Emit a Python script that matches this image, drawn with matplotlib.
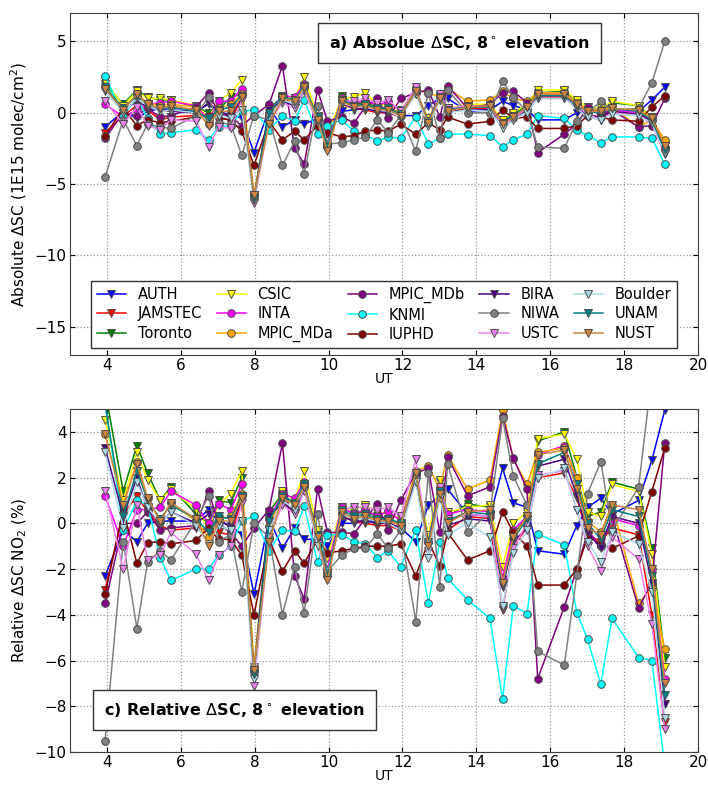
import numpy as np
import matplotlib
matplotlib.use("Agg")
import matplotlib.pyplot as plt

ut = [3.95, 4.44, 4.81, 5.10, 5.44, 5.73, 6.41, 6.75, 7.02, 7.35, 7.65, 7.98,
      8.39, 8.75, 9.08, 9.34, 9.70, 9.97, 10.35, 10.69, 10.99, 11.32, 11.61, 11.95,
      12.36, 12.70, 13.01, 13.22, 13.76, 14.37, 14.71, 15.00, 15.37, 15.66, 16.38, 16.72,
      17.01, 17.37, 17.67, 18.39, 18.75, 19.10]

names = ["AUTH", "JAMSTEC", "Toronto", "CSIC", "INTA", "MPIC_MDa", "MPIC_MDb", "KNMI",
         "IUPHD", "BIRA", "NIWA", "USTC", "Boulder", "UNAM", "NUST"]
colors = ["blue", "red", "green", "yellow", "magenta", "orange", "purple", "cyan",
          "maroon", "indigo", "gray", "violet", "lightblue", "teal", "peru"]
markers = ["v", "v", "v", "v", "o", "o", "o", "o", "o", "v", "o", "v", "v", "v", "v"]

# absolute dSC (1E15 molec/cm2)
absolute = {
    "AUTH": [-1.0, 0.1, -0.4, 0.1, 0.3, 0.2, 0.1, 0.6, 0.0, -0.1, -0.4, -2.8, 0.3, -1.0, -0.5, -0.8, -0.4, -1.1, 0.1, 0.2, 0.3, 0.2, 0.1, -0.2, -0.2, 0.5, 1.0, 1.0, 0.1, 0.2, 0.8, 0.5, 0.2, -0.5, -0.5, 0.0, 0.1, 0.4, 0.3, 0.1, 0.9, 1.8],
    "JAMSTEC": [-1.4, -0.2, 0.5, 0.2, -0.5, -0.3, -0.2, -0.4, -0.3, -0.5, 1.0, -5.9, -0.3, 0.9, 0.6, 1.6, -0.6, -2.3, 0.6, 0.3, 0.2, 0.0, 0.0, -0.3, 1.4, -0.7, 1.0, 0.1, 0.3, 0.3, -0.7, -0.3, 0.2, 1.1, 1.1, 0.3, -0.2, -0.3, 0.0, -0.1, -0.6, -2.6],
    "Toronto": [2.0, 0.6, 1.6, 1.1, 0.9, 0.9, 0.4, 0.0, 0.2, 1.1, 1.3, -5.9, 0.3, 1.1, 1.0, 1.8, -0.3, -2.2, 1.2, 0.6, 0.7, 0.4, 0.3, 0.0, 1.5, -0.5, 1.1, 0.3, 0.5, 0.5, -0.6, -0.1, 0.5, 1.4, 1.5, 0.7, 0.2, 0.1, 0.7, 0.5, -0.3, -2.3],
    "CSIC": [2.2, 0.5, 1.5, 1.0, 1.0, 0.9, 0.5, -0.3, 0.8, 1.4, 2.3, -5.8, -0.2, 1.2, 1.0, 2.5, -0.2, -1.5, 1.0, 1.1, 1.4, 0.6, 0.5, 0.2, 1.6, -0.4, 1.2, 0.3, 0.6, 0.6, -0.5, 0.0, 0.6, 1.6, 1.6, 0.9, 0.4, 0.3, 0.8, 0.5, -0.4, -2.2],
    "INTA": [0.6, -0.3, 0.2, 0.6, 0.7, 0.8, 0.5, -0.5, 0.8, 0.8, 1.7, -5.9, 0.0, 1.2, 1.1, 2.0, -0.5, -2.2, 1.0, 0.6, 0.9, 0.5, 0.8, 0.1, 1.5, -0.6, 1.3, 0.2, 0.4, 0.5, -0.7, -0.3, 0.4, 1.3, 1.3, 0.6, 0.2, 0.0, 0.2, 0.0, -0.5, -2.5],
    "MPIC_MDa": [1.8, 0.3, 1.3, 0.7, 0.5, 0.6, 0.4, -0.8, 0.3, 0.6, 1.3, -5.7, -0.2, 1.0, 0.9, 1.8, -0.5, -2.4, 0.8, 0.5, 0.6, 0.3, 0.3, 0.0, 1.6, 1.4, 1.1, 1.7, 0.8, 0.9, 1.5, 1.0, 0.8, 1.4, 1.4, 0.7, 0.2, 0.2, 0.4, -1.0, -0.5, -1.9],
    "MPIC_MDb": [-1.8, 0.0, -0.2, 0.3, -0.3, -0.2, 0.4, 1.4, 0.0, -0.3, -0.9, -0.2, 0.6, 3.3, -2.5, -3.6, 1.6, -0.6, -0.3, -0.7, 0.4, 1.0, -0.4, 1.0, 1.4, 1.6, -0.3, 1.9, 0.3, 0.6, 1.4, 1.5, 0.7, -2.8, -1.5, -0.8, 0.4, -0.2, 0.2, -1.0, -0.9, 1.0],
    "KNMI": [2.6, -0.2, 1.1, -0.4, -1.5, -1.4, -1.2, -1.9, -1.0, -0.9, 0.1, 0.2, -1.2, -0.2, -0.6, 0.9, -1.5, -0.9, -0.5, -1.3, -1.5, -2.0, -1.7, -1.8, -0.3, -2.2, -1.8, -1.5, -1.5, -1.6, -2.4, -1.9, -1.5, -0.2, -0.4, -1.2, -1.6, -2.1, -1.7, -1.7, -1.8, -3.6],
    "IUPHD": [-1.6, 0.3, -0.9, -0.5, -0.7, -0.6, -0.3, -0.2, -0.4, -0.5, -1.3, -3.7, -0.6, -1.9, -1.3, -1.9, -0.9, -1.4, -1.7, -1.6, -1.3, -1.2, -1.3, -0.8, -1.5, -0.7, -1.2, -0.3, -0.8, -0.6, 0.2, -0.4, -0.3, -1.1, -1.1, -0.9, -0.2, -0.3, -0.5, -0.6, 0.4, 1.2],
    "BIRA": [1.7, 0.2, 0.8, 0.4, 0.2, 0.1, 0.0, 0.7, 0.1, -0.2, 1.0, -6.0, 0.2, 0.8, 0.5, 1.6, -0.6, -2.3, 0.7, 0.3, 0.3, 0.1, 0.0, -0.2, 1.3, -0.6, 0.9, 0.1, 0.2, 0.2, -0.8, -0.4, 0.2, 1.2, 1.2, 0.3, -0.2, -0.3, 0.1, -0.1, -0.6, -2.7],
    "NIWA": [-4.5, -0.5, -2.3, -0.8, -1.0, -1.1, -0.2, 1.1, -0.7, -0.8, -3.0, -0.2, -0.5, -3.7, -2.0, -4.3, 0.5, -2.2, -2.1, -1.9, -1.7, -0.5, -1.4, -0.2, -2.7, 1.4, -1.8, 1.6, 0.0, 0.0, 2.2, 1.1, 0.1, -2.4, -2.5, -0.6, 0.0, 0.8, 0.2, 0.3, 2.1, 5.0],
    "USTC": [0.8, -0.8, 0.4, -0.9, -1.2, -0.5, -0.6, -2.4, -1.0, -1.1, 0.9, -6.3, -0.6, 0.7, 0.3, 1.5, -0.7, -2.5, 0.9, 0.8, 1.0, 0.7, 0.9, 0.1, 1.8, -0.8, 1.3, 0.3, 0.5, 0.4, -0.9, -0.4, 0.3, 1.0, 1.0, 0.5, -0.1, -0.5, 0.0, -0.2, -0.8, -2.9],
    "Boulder": [1.5, 0.0, 1.0, 0.5, 0.1, 0.2, 0.0, -0.6, -0.2, -0.4, 0.2, -6.1, -0.3, 0.9, 0.6, 1.7, -0.6, -2.3, 0.7, 0.4, 0.4, 0.2, 0.1, -0.3, 1.3, -0.9, 0.9, 0.0, 0.2, 0.1, -1.1, -0.5, 0.0, 1.0, 1.0, 0.3, -0.3, -0.5, -0.1, -0.2, -0.7, -2.8],
    "UNAM": [1.8, 0.3, 1.2, 0.6, 0.3, 0.4, 0.1, -0.4, 0.2, 0.4, 1.2, -6.0, 0.0, 1.1, 0.9, 1.9, -0.3, -2.4, 0.9, 0.5, 0.6, 0.3, 0.3, -0.1, 1.5, -0.6, 1.1, 0.2, 0.4, 0.4, -0.7, -0.2, 0.4, 1.2, 1.2, 0.5, 0.1, 0.0, 0.3, 0.1, -0.5, -2.6],
    "NUST": [1.7, 0.2, 1.3, 0.6, 0.3, 0.5, 0.2, -0.9, 0.1, 0.1, 1.1, -5.8, -0.8, 1.0, 0.8, 1.8, -0.5, -2.7, 0.8, 0.4, 0.5, 0.2, 0.2, -0.2, 1.5, -0.7, 1.0, 0.1, 0.4, 0.5, -0.8, -0.3, 0.4, 1.3, 1.3, 0.6, 0.1, 0.1, 0.3, 0.2, -0.4, -2.3],
}

# relative dSC NO2 (%)
relative = {
    "AUTH": [-2.3, -0.3, -0.8, 0.0, 0.1, 0.1, 0.1, 0.6, 0.1, -0.1, -0.5, -3.1, 0.2, -1.1, -0.2, -0.7, -0.7, -1.0, 0.0, 0.0, 0.1, 0.1, 0.0, -0.2, -0.8, 0.8, 1.2, 1.5, 0.4, 0.3, 2.4, 0.9, 0.7, -1.2, -1.35, -0.1, 0.7, 1.1, 0.4, 1.0, 2.75, 4.95],
    "JAMSTEC": [-2.9, 0.4, 1.2, 0.5, -0.1, -0.3, -0.2, -0.3, -0.4, -0.5, 1.0, -6.5, -0.3, 1.0, 0.5, 1.5, -0.8, -2.2, 0.3, 0.1, 0.0, -0.1, -0.1, -0.3, 2.0, -0.9, 1.3, -0.3, 0.3, 0.2, -3.8, -1.0, -0.2, 2.0, 2.2, 1.1, -0.5, -0.8, -0.2, -0.5, -4.0, -8.7],
    "Toronto": [5.8, 1.4, 3.4, 2.2, 1.0, 1.6, 0.4, 0.0, 1.0, 0.9, 2.0, -6.4, 0.5, 1.3, 0.8, 1.6, -0.4, -2.1, 0.7, 0.4, 0.5, 0.3, 0.2, 0.0, 2.1, -0.6, 1.8, 0.3, 0.85, 0.7, -2.7, -0.5, 0.3, 3.6, 4.0, 2.0, 0.3, 0.5, 1.8, 1.5, -1.1, -5.9],
    "CSIC": [4.5, 1.0, 3.1, 1.9, 1.0, 1.5, 0.6, -0.2, 0.8, 1.3, 2.3, -6.3, 0.0, 1.4, 1.0, 2.3, -0.3, -1.5, 0.7, 0.6, 0.8, 0.5, 0.4, 0.2, 2.2, -0.5, 1.9, 0.5, 0.7, 0.8, -1.9, 0.0, 0.5, 3.7, 3.9, 2.8, 0.5, 0.3, 1.7, 1.4, -1.35, -6.3],
    "INTA": [1.2, -1.0, 0.6, 0.6, 0.7, 1.4, 0.8, 0.0, 0.85, 0.6, 1.7, -6.5, 0.2, 1.3, 1.1, 1.8, -0.7, -2.0, 0.7, 0.4, 0.6, 0.3, 0.55, 0.1, 2.1, -0.8, 1.6, 0.4, 0.6, 0.5, -2.4, -0.3, 0.3, 3.0, 3.4, 1.9, -0.3, -1.0, 0.2, -0.1, -2.0, -6.8],
    "MPIC_MDa": [3.9, 0.8, 2.7, 1.1, 0.1, 0.9, 0.1, -0.6, 0.2, 0.3, 1.3, -6.3, -0.1, 1.2, 0.9, 1.7, -0.6, -2.3, 0.4, 0.2, 0.3, 0.2, 0.2, -0.1, 2.3, 2.5, 1.5, 3.0, 1.5, 1.9, 4.95, 2.8, 1.7, 3.1, 3.3, 2.0, 0.1, -0.4, 0.8, -3.5, -2.8, -5.5],
    "MPIC_MDb": [-3.5, 0.0, 0.0, 0.5, -0.3, -0.2, -0.1, 1.4, 0.0, -0.4, -1.0, -0.2, 0.6, 3.5, -2.3, -3.3, 1.5, -0.4, -0.4, -0.45, 0.2, 0.85, -0.3, 1.0, 2.2, 2.4, -0.4, 2.9, 1.2, 1.6, 4.7, 2.85, 1.5, -6.8, -3.65, -2.0, -0.4, -1.0, 0.3, -3.7, -2.6, 3.5],
    "KNMI": [5.3, -0.3, 1.0, 0.8, -1.5, -2.5, -2.0, -2.0, -1.4, -1.0, 0.1, 0.3, -1.2, -0.3, -0.35, 0.75, -1.7, -0.5, -0.5, -0.8, -0.9, -1.5, -1.2, -1.9, -0.3, -3.5, -0.8, -2.4, -3.35, -4.16, -7.7, -3.6, -3.95, -0.47, -0.95, -3.9, -5.07, -7.04, -4.15, -5.87, -6.0, -10.6],
    "IUPHD": [-3.1, 0.6, -1.75, -0.85, -0.8, -0.9, -0.75, -0.2, -0.7, -0.7, -1.4, -4.0, -0.7, -2.1, -1.2, -1.75, -0.7, -1.3, -1.2, -1.1, -1.0, -1.0, -1.0, -0.9, -2.3, -0.8, -1.85, -0.4, -1.6, -1.2, 0.5, -0.4, -1.0, -2.7, -2.7, -2.0, -0.6, -0.9, -1.1, -0.55, 1.39, 3.3],
    "BIRA": [3.3, 0.3, 2.0, 0.6, 0.0, 0.5, 0.0, 0.4, 0.2, -0.2, 1.1, -6.6, 0.3, 0.9, 0.5, 1.5, -0.8, -2.2, 0.3, 0.1, 0.1, 0.0, 0.0, -0.2, 1.9, -0.9, 1.2, -0.1, 0.2, 0.1, -2.8, -0.8, -0.2, 2.5, 2.8, 1.2, -0.4, -1.1, 0.3, 0.0, -2.6, -7.9],
    "NIWA": [-9.5, -0.8, -4.6, -1.7, -1.2, -1.6, 0.1, 1.2, -0.8, -0.5, -3.0, 0.0, -0.6, -4.0, -1.9, -3.9, 0.4, -2.1, -1.4, -1.1, -1.1, -0.45, -1.1, -0.3, -4.3, 2.2, -2.8, 2.6, -0.4, 0.5, 4.6, 2.06, 0.8, -5.6, -6.2, -2.25, 1.3, 2.7, -0.3, 1.57, 6.5, 9.0],
    "USTC": [1.4, -2.0, 0.8, -1.6, -1.4, -0.4, -1.35, -2.5, -1.4, -1.0, 0.9, -7.1, -0.6, 0.8, 0.4, 1.4, -0.9, -2.4, 0.6, 0.7, 0.7, 0.6, 0.7, 0.3, 2.8, -1.2, 1.6, 0.2, 0.4, 0.3, -3.7, -1.1, 0.0, 2.1, 2.3, 0.6, -1.0, -2.1, -0.6, -1.55, -4.4, -9.0],
    "Boulder": [3.1, -0.2, 1.8, 0.7, 0.0, 0.5, -0.1, -0.9, -0.1, -0.3, 0.1, -6.8, -0.3, 1.0, 0.6, 1.6, -1.0, -2.2, 0.4, 0.2, 0.2, 0.1, 0.0, -0.3, 1.8, -1.5, 1.1, -0.5, 0.0, -0.6, -3.6, -1.3, -0.3, 2.0, 2.4, 0.6, -0.8, -1.7, -0.4, -0.9, -3.0, -8.5],
    "UNAM": [5.2, 0.3, 2.3, 1.0, 0.2, 0.8, 0.2, -0.4, 0.3, 0.2, 1.2, -6.6, 0.1, 1.2, 0.9, 1.7, -0.5, -2.3, 0.6, 0.3, 0.4, 0.2, 0.2, 0.0, 2.1, -0.8, 1.4, 0.1, 0.5, 0.4, -2.7, -0.7, 0.2, 2.6, 3.1, 1.7, 0.0, -0.7, 0.6, 0.3, -2.3, -7.5],
    "NUST": [3.9, 0.8, 2.6, 1.1, 0.1, 0.9, 0.2, -1.0, 0.1, 0.1, 1.1, -6.4, -0.8, 1.1, 0.8, 1.6, -0.6, -2.5, 0.5, 0.2, 0.3, 0.1, 0.1, -0.1, 2.2, -1.0, 1.3, 0.0, 0.5, 0.6, -2.6, -0.6, 0.3, 3.0, 3.2, 1.5, -0.2, -0.5, 0.8, 0.6, -2.0, -7.0],
}

fig = plt.figure(figsize=(7.08, 7.87), dpi=100)
ax1 = fig.add_axes([0.0989, 0.5489, 0.887, 0.4346])
ax2 = fig.add_axes([0.0989, 0.0445, 0.887, 0.4358])

for name, c, m in zip(names, colors, markers):
    ax1.plot(ut, absolute[name], color=c, marker=m, ms=5.5, mec="0.3", mew=0.7,
             lw=1.1, label=name)
    ax2.plot(ut, relative[name], color=c, marker=m, ms=5.5, mec="0.3", mew=0.7,
             lw=1.1, label=name)

for ax in (ax1, ax2):
    ax.set_xlim(3, 20)
    ax.set_xticks(np.arange(4, 21, 2))
    ax.grid(True, color="0.6", linestyle=":", linewidth=0.9)
    ax.tick_params(direction="in", top=True, right=True, labelsize=11, pad=2.5)
    ax.set_xlabel("UT", fontsize=10)
    # UT sits right under the tick labels
    ax.xaxis.set_label_coords(0.5, -0.049)
    for s in ax.spines.values():
        s.set_color("0.25")

box = dict(facecolor="white", edgecolor="0.2", pad=8)

ax1.set_ylim(-17, 7)
ax1.set_yticks([-15, -10, -5, 0, 5])
ax1.set_ylabel(r"Absolute $\Delta$SC (1E15 molec/cm$^2$)", fontsize=11)
ax1.text(0.62, 0.912, r"a) Absolue $\Delta$SC, 8$^\circ$ elevation", transform=ax1.transAxes,
         ha="center", va="center", fontsize=11.5, fontweight="bold", bbox=box)
ax1.legend(loc="lower center", ncol=5, fontsize=10.5, fancybox=False, edgecolor="0.2",
           framealpha=1, handlelength=2.0, columnspacing=1.0, labelspacing=0.3,
           borderaxespad=0.5, bbox_to_anchor=(0.5, 0.0))

ax2.set_ylim(-10, 5)
ax2.set_yticks(np.arange(-10, 5, 2))
ax2.set_ylabel(r"Relative $\Delta$SC NO$_2$ (%)", fontsize=11)
ax2.text(0.262, 0.122, r"c) Relative $\Delta$SC, 8$^\circ$ elevation", transform=ax2.transAxes,
         ha="center", va="center", fontsize=11.5, fontweight="bold", bbox=box)

fig.savefig("out.png", dpi=100)
plt.close()
